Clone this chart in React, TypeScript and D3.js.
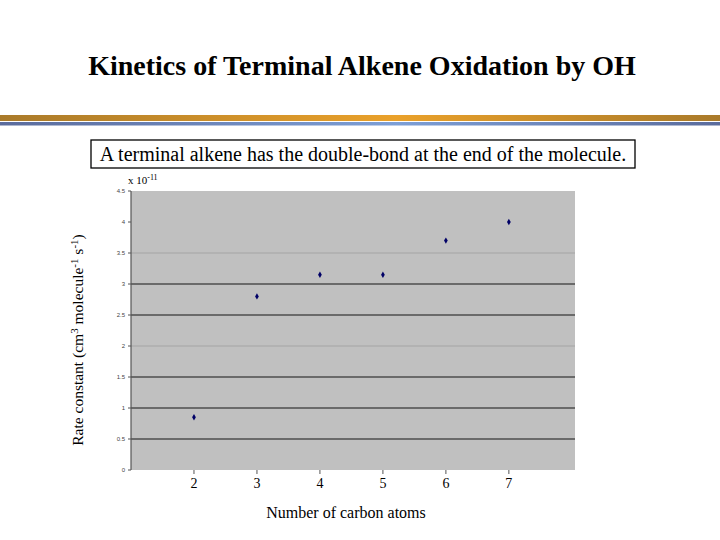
import React from "react";
import * as d3 from "d3";

const carbonAtoms = [2, 3, 4, 5, 6, 7];
const rateConstants = [0.85, 2.8, 3.15, 3.15, 3.7, 4.0];
const yTicks = [0, 0.5, 1, 1.5, 2, 2.5, 3, 3.5, 4, 4.5];
const strongGrid = [0.5, 1, 1.5, 2.5, 3];
const lightGrid = [2, 3.5];

const W = 720;
const H = 540;
const serif = "'Liberation Serif', 'Times New Roman', serif";

export default function App() {
  const x = d3.scaleLinear().domain([1, 8.05]).range([131, 575]);
  const y = d3.scaleLinear().domain([0, 4.5]).range([470, 191]);
  const diamond = d3.symbol().type(d3.symbolDiamond).size(12)();

  return (
    <svg
      width={W}
      height={H}
      style={{ position: "absolute", left: 0, top: 0, background: "#fff" }}
    >
      <defs>
        <linearGradient id="gold" x1="0" x2="1" y1="0" y2="0">
          <stop offset="0" stopColor="#a97a2a" />
          <stop offset="0.55" stopColor="#eaa12a" />
          <stop offset="1" stopColor="#a97a2a" />
        </linearGradient>
        <linearGradient id="blue" x1="0" x2="1" y1="0" y2="0">
          <stop offset="0" stopColor="#5b6c9c" />
          <stop offset="0.55" stopColor="#7d9fd6" />
          <stop offset="1" stopColor="#5b6c9c" />
        </linearGradient>
      </defs>

      <text
        x={362}
        y={75}
        textAnchor="middle"
        fontFamily={serif}
        fontWeight="bold"
        fontSize={28}
        fill="#000"
      >
        Kinetics of Terminal Alkene Oxidation by OH
      </text>

      <rect x={0} y={115} width={W} height={6} fill="url(#gold)" />
      <rect x={0} y={122} width={W} height={3.5} fill="url(#blue)" />

      <rect x={91} y={140} width={544} height={28} fill="#fff" stroke="#000" strokeWidth={1.3} />
      <text x={363} y={161} textAnchor="middle" fontFamily={serif} fontSize={20} fill="#000">
        A terminal alkene has the double-bond at the end of the molecule.
      </text>

      <text x={128} y={184} fontFamily={serif} fontSize={11} fill="#000">
        x 10
        <tspan dy={-4} fontSize={8}>-11</tspan>
      </text>

      {/* plot area */}
      <rect
        x={x(1)}
        y={y(4.5)}
        width={x(8.05) - x(1)}
        height={y(0) - y(4.5)}
        fill="#c0c0c0"
      />
      {lightGrid.map((v) => (
        <line key={"l" + v} x1={x(1)} x2={x(8.05)} y1={y(v)} y2={y(v)} stroke="#a4a4a4" strokeWidth={1} />
      ))}
      {strongGrid.map((v) => (
        <line key={"s" + v} x1={x(1)} x2={x(8.05)} y1={y(v)} y2={y(v)} stroke="#4e4e4e" strokeWidth={1.3} />
      ))}

      {/* y axis */}
      <line x1={x(1)} x2={x(1)} y1={y(4.5)} y2={y(0)} stroke="#555" strokeWidth={1.2} />
      {yTicks.map((v) => (
        <g key={"yt" + v}>
          <line x1={x(1) - 3} x2={x(1)} y1={y(v)} y2={y(v)} stroke="#555" />
          <text
            x={x(1) - 6}
            y={y(v) + 2}
            textAnchor="end"
            fontFamily="'Liberation Sans', Arial, sans-serif"
            fontSize={6}
            fill="#444"
          >
            {String(v)}
          </text>
        </g>
      ))}

      {/* x axis ticks */}
      {carbonAtoms.map((c) => (
        <g key={"xt" + c}>
          <line x1={x(c)} x2={x(c)} y1={y(0)} y2={y(0) + 4} stroke="#555" />
          <text x={x(c)} y={y(0) + 18} textAnchor="middle" fontFamily={serif} fontSize={14} fill="#000">
            {c}
          </text>
        </g>
      ))}

      {/* points */}
      {carbonAtoms.map((c, i) => (
        <path
          key={"p" + c}
          d={diamond || ""}
          transform={`translate(${x(c)},${y(rateConstants[i])})`}
          fill="#000066"
        />
      ))}

      <text x={346} y={518} textAnchor="middle" fontFamily={serif} fontSize={16} fill="#000">
        Number of carbon atoms
      </text>

      <text
        transform="translate(83,340) rotate(-90)"
        textAnchor="middle"
        fontFamily={serif}
        fontSize={15.5}
        fill="#000"
      >
        Rate constant (cm
        <tspan dy={-5} fontSize={11}>3</tspan>
        <tspan dy={5}> molecule</tspan>
        <tspan dy={-5} fontSize={11}>-1</tspan>
        <tspan dy={5}> s</tspan>
        <tspan dy={-5} fontSize={11}>-1</tspan>
        <tspan dy={5}>)</tspan>
      </text>
    </svg>
  );
}
